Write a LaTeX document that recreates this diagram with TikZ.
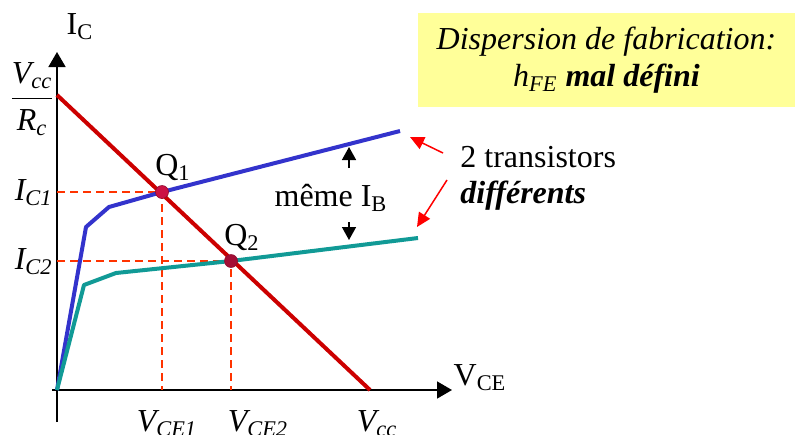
\documentclass[tikz,border=0pt]{standalone}
\usepackage{fontspec}
\setmainfont{Liberation Serif}
\usetikzlibrary{arrows.meta,positioning,calc}
\definecolor{Load}{HTML}{CC0000}
\definecolor{CurveA}{HTML}{3333CC}
\definecolor{CurveB}{HTML}{119A96}
\definecolor{Guide}{HTML}{FF3300}
\definecolor{Note}{HTML}{FFFF99}
\definecolor{Dot}{HTML}{CC1144}
\definecolor{Pointer}{HTML}{FF0000}
\tikzset{axis/.style={line width=0.8pt,-{Triangle[length=7.5pt,width=8.5pt]}},
  loadline/.style={line width=2pt,draw=Load},
  charac/.style={line width=2pt,line join=round},
  guide/.style={draw=Guide,line width=0.6pt,dash pattern=on 4pt off 2.5pt},
  qdot/.style={circle,fill=Dot,draw=Dot!70!black,line width=0.3pt,inner sep=0pt,minimum size=6.5pt},
  lbl/.style={inner sep=0pt},
  note/.style={fill=Note,align=center,inner sep=0pt,minimum width=188.5pt,
    minimum height=47pt,font=\fontsize{16}{18.5}\selectfont\itshape},
  pointer/.style={-{Triangle[length=7pt,width=6.5pt]},line width=0.75pt,draw=Pointer,fill=Pointer},
  ibarrow/.style={-{Triangle[length=6.5pt,width=7pt]},line width=0.75pt}}
\begin{document}
\begin{tikzpicture}[x=0.5pt,y=-0.5pt,font=\fontsize{16}{19}\selectfont]
    \useasboundingbox (0,0) rectangle (801,434);
    \coordinate (O) at (57,390);
    \coordinate (ytop) at (57,52);
    \coordinate (ybot) at (57,422);
    \coordinate (xleft) at (52,390);
    \coordinate (xtop) at (452,390);
    \coordinate (Q1) at (162,192);
    \coordinate (Q2) at (231,261);
    \coordinate (loadA) at (57,95);
    \coordinate (loadB) at (370,390);
    \coordinate (blueEnd) at (400,131);
    \coordinate (tealEnd) at (418,238);
    \draw[axis] (ybot) -- (ytop);
    \draw[axis] (xleft) -- (xtop);
    \draw[guide] (Q1 -| O) -- (Q1) -- (Q1 |- O);
    \draw[guide] (Q2 -| O) -- (Q2) -- (Q2 |- O);
    \draw[charac,draw=CurveA] (O) -- (86,227) -- (109,207) -- (Q1) -- (blueEnd);
    \draw[charac,draw=CurveB] (O) -- (84,285) -- (116,273) -- (Q2) -- (tealEnd);
    \draw[loadline] (loadA) -- (loadB);
    \node[qdot] (dot1) at (Q1) {};
    \node[qdot,fill=Dot!80!black] (dot2) at (Q2) {};
    \node[lbl] (ic) at (80,27) {I\textsubscript{C}};
    \node[lbl] (vce) at (480,378) {V\textsubscript{CE}};
    \node[lbl] (frac) at (32,99)
      {\(\displaystyle\frac{\hbox{\itshape V\textsubscript{cc}}}{\hbox{\itshape R\textsubscript{c}}}\)};
    \node[lbl,anchor=east] (ic1) at (53,193) {\itshape I\textsubscript{C1}};
    \node[lbl,anchor=east] (ic2) at (53,262) {\itshape I\textsubscript{C2}};
    \node[lbl,anchor=north] (vce1) at (167,410) {\itshape V\textsubscript{CE1}};
    \node[lbl,anchor=north] (vce2) at (258,410) {\itshape V\textsubscript{CE2}};
    \node[lbl,anchor=north] (vcc) at (377,410) {\itshape V\textsubscript{cc}};
    \node[lbl] (q1) at (173,167) {Q\textsubscript{1}};
    \node[lbl] (q2) at (242,237) {Q\textsubscript{2}};
    \node[lbl] (meme) at (331,198) {même I\textsubscript{B}};
    \coordinate (upA) at (349,168);
    \coordinate (upB) at (349,147);
    \coordinate (dnA) at (349,222);
    \coordinate (dnB) at (349,240);
    \draw[ibarrow] (upA) -- (upB);
    \draw[ibarrow] (dnA) -- (dnB);
    \node[note] (disp) at (606.5,60)
      {Dispersion de fabrication:\\ h\textsubscript{FE} \textbf{mal défini}};
    \node[lbl,anchor=west,align=left] (trans) at (460,178)
      {2 transistors\\[-1pt] \textbf{\textit{différents}}};
    \coordinate (ptA) at (443,153);
    \coordinate (ptB) at (447,180);
    \draw[pointer] (ptA) -- ($(blueEnd)+(10,6)$);
    \draw[pointer] (ptB) -- ($(tealEnd)+(-1,-11)$);
  \end{tikzpicture}
\end{document}
